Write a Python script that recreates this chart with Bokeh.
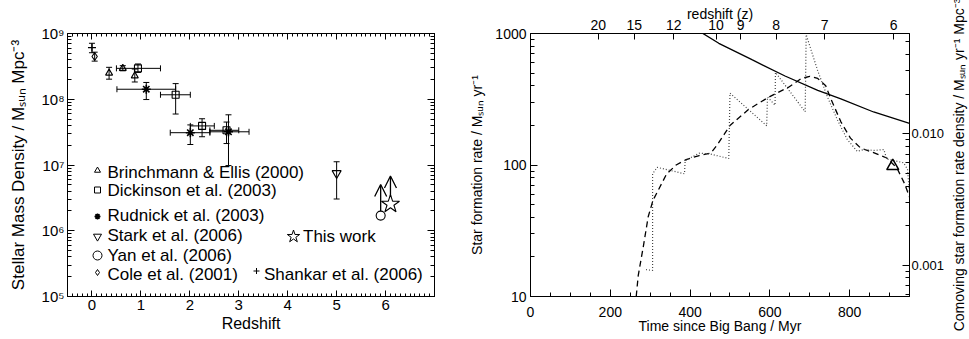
import math
from bokeh.plotting import figure
from bokeh.models import (ColumnDataSource, Whisker, Arrow, OpenHead, TeeHead, LogAxis,
                          LinearAxis, Range1d, FixedTicker, CustomJSTickFormatter, LogScale)
from bokeh.layouts import row
from bokeh.embed import file_html
from bokeh.resources import INLINE
from bokeh.core.properties import value

FONT = "Liberation Sans"

# ---------------- Left panel data: stellar mass density vs redshift ----------------
brinch_z = [0.35, 0.63, 0.875]
brinch_rho = [2.5e8, 2.95e8, 2.27e8]
brinch_lo = [2.02e8, 2.71e8, 1.83e8]
brinch_hi = [3.06e8, 3.24e8, 2.88e8]

dick_z = [0.94, 1.71, 2.25, 2.75]
dick_zlo = [0.5, 1.4, 2.01, 2.41]
dick_zhi = [1.4, 2.01, 2.5, 3.0]
dick_rho = [2.95e8, 1.17e8, 3.93e7, 3.37e7]
dick_lo = [2.56e8, 5.96e7, 2.69e7, 2.12e7]
dick_hi = [3.44e8, 1.73e8, 5.05e7, 4.5e7]

rud_z = [1.11, 2.01, 2.79]
rud_zlo = [0.51, 1.6, 2.41]
rud_zhi = [1.71, 2.41, 3.21]
rud_rho = [1.42e8, 3.1e7, 3.2e7]
rud_lo = [9.9e7, 2.05e7, 9.8e6]
rud_hi = [1.8e8, 4.07e7, 5.8e7]

stark_z = [5.0]
stark_rho = [7.5e6]
stark_lo = [3.04e6]
stark_hi = [1.12e7]

yan_z = [5.9]
yan_rho = [1.7e6]
yan_limit_top = [5.05e6]

cole_z = [0.055]
cole_rho = [4.47e8]
cole_lo = [3.8e8]
cole_hi = [5.2e8]

shank_z = [0.0]
shank_rho = [6.1e8]
shank_lo = [5.1e8]
shank_hi = [7.1e8]

this_z = [6.1]
this_rho = [2.54e6]
this_limit_top = [6.8e6]

legend_labels = ["Brinchmann & Ellis (2000)", "Dickinson et al. (2003)", "Rudnick et al. (2003)",
                 "Stark et al. (2006)", "Yan et al. (2006)", "Cole et al. (2001)",
                 "This work", "Shankar et al. (2006)"]

z_ticks = [0, 1, 2, 3, 4, 5, 6]
rho_ticks = [100000, 1000000, 10000000, 100000000, 1000000000]
rho_tick_labels = ["10⁵", "10⁶", "10⁷", "10⁸", "10⁹"]

# ---------------- Right panel data: SFR vs time ----------------
solid_t = [430, 472, 555, 638, 720, 778, 860, 950]
solid_sfr = [1010, 842, 632, 475, 369, 318, 253, 207]

dash_t = [265, 270, 283, 295, 307, 324, 341, 365, 390, 423, 452, 468, 485, 500, 547, 596, 646,
          679, 700, 720, 740, 753, 778, 802, 827, 860, 893, 918, 938, 950]
dash_sfr = [10, 14.4, 24.2, 40.4, 53.8, 67.7, 85.3, 100, 110, 118, 123, 142, 170, 200, 265, 327,
            389, 455, 472, 455, 400, 318, 213, 160, 135, 124, 113, 95.5, 71.8, 57]

dot_t = [289.5, 306, 306, 317.4, 386, 387.7, 423, 452, 497, 500, 592, 594, 613, 614, 688.5, 691,
         720, 744.7, 769.4, 794.2, 819, 836, 861, 885.7, 893, 935, 945, 950]
dot_sfr = [16.0, 15.8, 85.7, 96, 85.7, 108, 123, 121, 112, 352, 199, 329, 285, 506, 254, 980,
           520, 327, 220, 156, 127, 131, 129, 131, 111, 104, 93, 61]

obs_t = [908]
obs_sfr = [98]

time_ticks = [0, 200, 400, 600, 800]
sfr_ticks = [10, 100, 1000]
redshift_labels = ["20", "15", "12", "10", "9", "8", "7", "6"]
redshift_times = [170, 260, 359, 465, 527, 616, 737, 910]
density_ticks = [0.001, 0.01]
density_tick_labels = ["0.001", "0.010"]
SFR_PER_DENSITY = 17300.0  # SFR [Msun/yr] corresponding to 1 Msun/yr/Mpc^3

# shared frame edges (plots in a row share frame top/bottom)
BORDER_TOP, BORDER_BOTTOM, H = 33, 43, 339


def style_axis(ax, size, major=7, minor=4):
    ax.major_tick_in = major
    ax.major_tick_out = 0
    ax.minor_tick_in = minor
    ax.minor_tick_out = 0
    for a in ("axis_line_color", "major_tick_line_color", "minor_tick_line_color",
              "major_label_text_color", "axis_label_text_color"):
        setattr(ax, a, "black")
    ax.major_label_text_font = FONT
    ax.major_label_text_font_size = size
    ax.axis_label_text_font = FONT
    ax.axis_label_text_font_style = "normal"


def log_minors(lo_exp, hi_exp):
    return [m * 10.0 ** e for e in range(lo_exp, hi_exp) for m in range(2, 10)]


blank = CustomJSTickFormatter(code="return ''")

# ================= LEFT FIGURE =================
XL0, XL1 = -0.5, 7.0
YL0, YL1 = 1e5, 1e9
left = figure(width=466, height=H, x_range=Range1d(XL0, XL1), y_range=Range1d(YL0, YL1),
              y_axis_type="log", output_backend="svg", toolbar_location=None,
              min_border_left=67, min_border_right=32, min_border_top=BORDER_TOP,
              min_border_bottom=BORDER_BOTTOM)
left.xgrid.visible = False
left.ygrid.visible = False
left.outline_line_color = "black"

xt = FixedTicker(ticks=z_ticks + [7], minor_ticks=[round(-0.4 + 0.1 * i, 2) for i in range(74)])
yt = FixedTicker(ticks=rho_ticks, minor_ticks=log_minors(5, 9))
left.xaxis.ticker = xt
left.xaxis.major_label_overrides = {7: ""}
left.yaxis.ticker = yt
left.yaxis.major_label_overrides = dict(zip(rho_ticks, rho_tick_labels))
style_axis(left.xaxis[0], "15px", 6, 3)
style_axis(left.yaxis[0], "15px", 7, 4)
left.xaxis.axis_label = "Redshift"
left.xaxis.axis_label_text_font_size = "16px"
left.xaxis.axis_label_standoff = 2
left.xaxis.major_label_standoff = 3
left.yaxis.axis_label = "Stellar Mass Density / Mₛᵤₙ Mpc⁻³"
left.yaxis.axis_label_text_font_size = "17px"
left.yaxis.axis_label_standoff = 10
left.yaxis.major_label_standoff = 3

ltop = LinearAxis(ticker=xt, formatter=blank)
style_axis(ltop, "1px", 6, 3)
ltop.major_label_standoff = 0
left.add_layout(ltop, "above")
lright = LogAxis(ticker=yt, formatter=blank)
style_axis(lright, "1px", 7, 4)
lright.major_label_standoff = 0
left.add_layout(lright, "right")


def vwhisk(fig, z, lo, hi, width=6):
    src = ColumnDataSource(dict(z=z, lo=lo, hi=hi))
    fig.add_layout(Whisker(source=src, base="z", lower="lo", upper="hi", dimension="height",
                           line_color="black", line_width=1,
                           lower_head=TeeHead(size=width, line_color="black", line_width=1),
                           upper_head=TeeHead(size=width, line_color="black", line_width=1)))


def hwhisk(fig, rho, zlo, zhi, width=6):
    src = ColumnDataSource(dict(r=rho, lo=zlo, hi=zhi))
    fig.add_layout(Whisker(source=src, base="r", lower="lo", upper="hi", dimension="width",
                           line_color="black", line_width=1,
                           lower_head=TeeHead(size=width, line_color="black", line_width=1),
                           upper_head=TeeHead(size=width, line_color="black", line_width=1)))


vwhisk(left, brinch_z, brinch_lo, brinch_hi)
vwhisk(left, dick_z, dick_lo, dick_hi)
hwhisk(left, dick_rho, dick_zlo, dick_zhi)
vwhisk(left, rud_z, rud_lo, rud_hi)
hwhisk(left, rud_rho, rud_zlo, rud_zhi)
vwhisk(left, stark_z, stark_lo, stark_hi)
vwhisk(left, cole_z, cole_lo, cole_hi)
vwhisk(left, shank_z, shank_lo, shank_hi)

for zz, rr, top in ((yan_z, yan_rho, yan_limit_top), (this_z, this_rho, this_limit_top)):
    src = ColumnDataSource(dict(z=zz, r=rr, t=top))
    left.add_layout(Arrow(source=src, x_start="z", y_start="r", x_end="z", y_end="t",
                          line_color="black", line_width=1.3, level="underlay",
                          end=OpenHead(size=12, line_color="black", line_width=1.3)))

mk = dict(fill_color=None, line_color="black", line_width=1.1)
left.scatter(brinch_z, brinch_rho, marker="triangle", size=7, **mk)
left.scatter(dick_z, dick_rho, marker="square", size=7, **mk)
left.scatter(rud_z, rud_rho, marker="asterisk", size=9, line_color="black", line_width=1.6)
left.scatter(stark_z, stark_rho, marker="inverted_triangle", size=9, **mk)
left.scatter(yan_z, yan_rho, marker="circle", size=9, fill_color="white", line_color="black",
             line_width=1.1)
left.scatter(cole_z, cole_rho, marker="diamond", size=8, **mk)
left.scatter(shank_z, shank_rho, marker="cross", size=8, line_color="black", line_width=1.3)
left.scatter(this_z, this_rho, marker="star", size=19, fill_color="white", line_color="black",
             line_width=1.1)


# legend (IDL-style, inside plot) -- positions given in page pixels, mapped through the frame
FL, FR, FT, FB = 67, 434, BORDER_TOP, H - BORDER_BOTTOM


def lx(px):
    return XL0 + (px - FL) / (FR - FL) * (XL1 - XL0)


def ly(py):
    return 10 ** (math.log10(YL1) - (py - FT) / (FB - FT) * (math.log10(YL1) - math.log10(YL0)))


leg_markers = ["triangle", "square", "asterisk", "inverted_triangle", "circle", "diamond",
               "star", "cross"]
leg_sizes = [6, 6, 6, 8, 9, 6, 13, 6]
leg_sym_px = [97, 97, 97, 97, 97, 97, 293, 256]
leg_sym_py = [170, 189.5, 216, 236, 255, 272, 236, 270.5]
leg_txt_px = [107, 107, 107, 107, 107, 107, 302.5, 263.5]
leg_txt_py = [172, 190, 214.5, 235, 255, 273.5, 235.5, 273.5]
for m, s, sx, sy in zip(leg_markers, leg_sizes, leg_sym_px, leg_sym_py):
    lw = 1.6 if m == "asterisk" else 1
    left.scatter([lx(sx)], [ly(sy)], marker=m, size=s, fill_color=None, line_color="black",
                 line_width=lw)
left.text(x=[lx(p) for p in leg_txt_px], y=[ly(p) for p in leg_txt_py], text=legend_labels,
          text_font=value(FONT), text_font_size="17px", text_baseline="middle",
          text_align="left", text_color="black")

# ================= RIGHT FIGURE =================
XR0, XR1 = 0, 950
right = figure(width=481, height=H, x_range=Range1d(XR0, XR1), y_range=Range1d(10, 1000),
               y_axis_type="log", output_backend="svg", toolbar_location=None,
               min_border_left=63, min_border_right=32, min_border_top=BORDER_TOP,
               min_border_bottom=BORDER_BOTTOM)
right.xgrid.visible = False
right.ygrid.visible = False
right.outline_line_color = "black"

right.xaxis.ticker = FixedTicker(ticks=time_ticks, minor_ticks=list(range(0, 951, 50)))
right.yaxis.ticker = FixedTicker(ticks=sfr_ticks, minor_ticks=log_minors(1, 3))
right.yaxis.major_label_overrides = {t: str(t) for t in sfr_ticks}
style_axis(right.xaxis[0], "14px", 7, 4)
style_axis(right.yaxis[0], "14px", 7, 4)
right.xaxis.axis_label = "Time since Big Bang / Myr"
right.xaxis.axis_label_text_font_size = "14px"
right.xaxis.axis_label_standoff = -2
right.xaxis.major_label_standoff = 10
right.yaxis.axis_label = "Star formation rate / Mₛᵤₙ yr⁻¹"
right.yaxis.axis_label_text_font_size = "14px"
right.yaxis.axis_label_standoff = 7
right.yaxis.major_label_standoff = 4

ztop = LinearAxis(ticker=FixedTicker(ticks=redshift_times, minor_ticks=[]),
                  major_label_overrides=dict(zip(redshift_times, redshift_labels)),
                  axis_label="redshift (z)")
style_axis(ztop, "14px", 6, 0)
ztop.axis_label_text_font_size = "14px"
ztop.major_label_standoff = 4
ztop.axis_label_standoff = -5
right.add_layout(ztop, "above")

right.extra_y_ranges = {"dens": Range1d(10 / SFR_PER_DENSITY, 1000 / SFR_PER_DENSITY)}
right.extra_y_scales = {"dens": LogScale()}
dens = LogAxis(y_range_name="dens",
               ticker=FixedTicker(ticks=density_ticks, minor_ticks=log_minors(-4, -1)),
               major_label_overrides=dict(zip(density_ticks, density_tick_labels)))
style_axis(dens, "13px", 7, 4)
dens.major_label_standoff = 2
right.add_layout(dens, "right")

right.line(solid_t, solid_sfr, line_color="black", line_width=1.3)
right.line(dash_t, dash_sfr, line_color="black", line_width=1.3, line_dash="6 4")
right.line(dot_t, dot_sfr, line_color="#444444", line_width=1.2, line_dash="1 2")
right.scatter(obs_t, obs_sfr, marker="triangle", size=12, fill_color=None, line_color="black",
              line_width=1.5)

# ================= narrow strip carrying the right-hand axis title =================
# (a left-side axis label reads bottom-to-top, as in the reference)
strip = figure(width=22, height=H, x_range=Range1d(0, 1), y_range=Range1d(0, 1),
               output_backend="svg", toolbar_location=None,
               min_border_left=20, min_border_right=0, min_border_top=BORDER_TOP,
               min_border_bottom=BORDER_BOTTOM)
strip.xaxis.visible = False
strip.xgrid.visible = False
strip.ygrid.visible = False
strip.outline_line_color = None
strip.scatter([0.5], [0.5], size=1, alpha=0)
sax = strip.yaxis[0]
sax.ticker = FixedTicker(ticks=[0.5], minor_ticks=[])
sax.formatter = blank
sax.major_label_text_font_size = "1px"
sax.axis_line_color = None
sax.major_tick_line_color = None
sax.minor_tick_line_color = None
sax.axis_label = "Comoving star formation rate density / Mₛᵤₙ yr⁻¹ Mpc⁻³"
sax.axis_label_text_font = FONT
sax.axis_label_text_font_style = "normal"
sax.axis_label_text_font_size = "14px"
sax.axis_label_text_color = "black"
sax.axis_label_standoff = -3
sax.major_label_standoff = 0

layout = row(left, right, strip)
open("out.html", "w").write(file_html(layout, INLINE))
